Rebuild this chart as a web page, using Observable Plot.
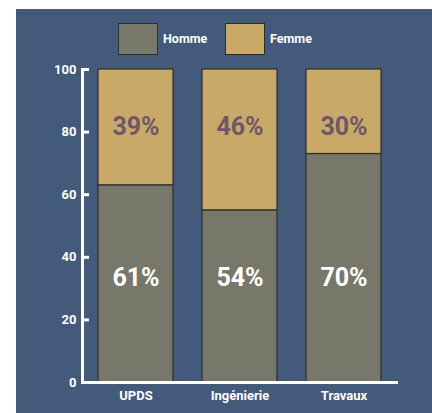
<!DOCTYPE html>
<html>
<head>
<meta charset="utf-8">
<script src="https://cdn.jsdelivr.net/npm/d3@7"></script>
<script src="https://cdn.jsdelivr.net/npm/@observablehq/plot@0.6"></script>
<style>
  html, body { margin: 0; padding: 0; background: #ffffff; }
  body { width: 432px; height: 413px; position: relative; overflow: hidden; font-family: Roboto, "DejaVu Sans", sans-serif; }
  #panel { position: absolute; left: 16px; top: 9px; width: 416px; height: 404px; background: #435a7a; }
  #legend { position: relative; height: 45px; }
  .sw { position: absolute; top: 14px; width: 38px; height: 30px; border: 1px solid #2e2e2e; }
  .lt { position: absolute; top: 22px; font-weight: 700; font-size: 12.5px; color: #ffffff; }
  #chart svg { display: block; overflow: visible; }
</style>
</head>
<body>
<div id="panel">
  <div id="legend"></div>
  <div id="chart"></div>
</div>
<script>
// Data
const categories = ["UPDS", "Ingénierie", "Travaux"];
const series = ["Homme", "Femme"];
const hommeBar = [63, 55, 73];       // drawn heights
const femmeBar = [37, 45, 27];
const hommeLabel = ["61%", "54%", "70%"];
const femmeLabel = ["39%", "46%", "30%"];
const yTicks = [0, 20, 40, 60, 80, 100];
const colors = ["#77776a", "#c8a968"];

const rows = [];
categories.forEach((c, i) => {
  rows.push({cat: c, sex: "Homme", value: hommeBar[i], label: hommeLabel[i]});
  rows.push({cat: c, sex: "Femme", value: femmeBar[i], label: femmeLabel[i]});
});

// Legend (HTML)
const legend = document.getElementById("legend");
const legendPos = [{sw: 102, tx: 147}, {sw: 209, tx: 254}];
series.forEach((s, i) => {
  const sw = document.createElement("div");
  sw.className = "sw";
  sw.style.left = legendPos[i].sw + "px";
  sw.style.background = colors[i];
  legend.appendChild(sw);
  const t = document.createElement("div");
  t.className = "lt";
  t.style.left = legendPos[i].tx + "px";
  t.textContent = s;
  legend.appendChild(t);
});

const W = 416, H = 359, mL = 66, mR = 36, mT = 15, mB = 31;
const plotW = W - mL - mR;

const chart = Plot.plot({
  width: W,
  height: H,
  marginLeft: mL,
  marginRight: mR,
  marginTop: mT,
  marginBottom: mB,
  style: {background: "transparent", fontFamily: "Roboto, 'DejaVu Sans', sans-serif"},
  x: {domain: categories, paddingInner: 0.28, paddingOuter: 0.14, label: null},
  y: {domain: [0, 100], label: null},
  color: {domain: series, range: colors},
  marks: [
    Plot.barY(rows, Plot.stackY({x: "cat", y: "value", fill: "sex", order: series, stroke: "#2e2e2e", strokeWidth: 1.2})),
    Plot.text(rows.filter(d => d.sex === "Femme"), {x: "cat", y: () => 81.5, text: "label", fill: "#6f5669", fontSize: 25, fontWeight: 700}),
    Plot.text(rows.filter(d => d.sex === "Homme"), {x: "cat", y: () => 33.3, text: "label", fill: "#ffffff", fontSize: 25, fontWeight: 700}),
    Plot.ruleY(yTicks, {stroke: "#ffffff", strokeWidth: 3, insetRight: plotW - 7}),
    Plot.frame({anchor: "left", stroke: "#ffffff", strokeWidth: 3}),
    Plot.frame({anchor: "bottom", stroke: "#ffffff", strokeWidth: 3}),
    Plot.axisY({ticks: yTicks, tickSize: 0, tickPadding: 6, fill: "#ffffff", fontSize: 13, fontWeight: 700, label: null}),
    Plot.axisX({tickSize: 0, tickPadding: 8, fill: "#ffffff", fontSize: 13, fontWeight: 700, label: null})
  ]
});
document.getElementById("chart").appendChild(chart);
</script>
</body>
</html>
